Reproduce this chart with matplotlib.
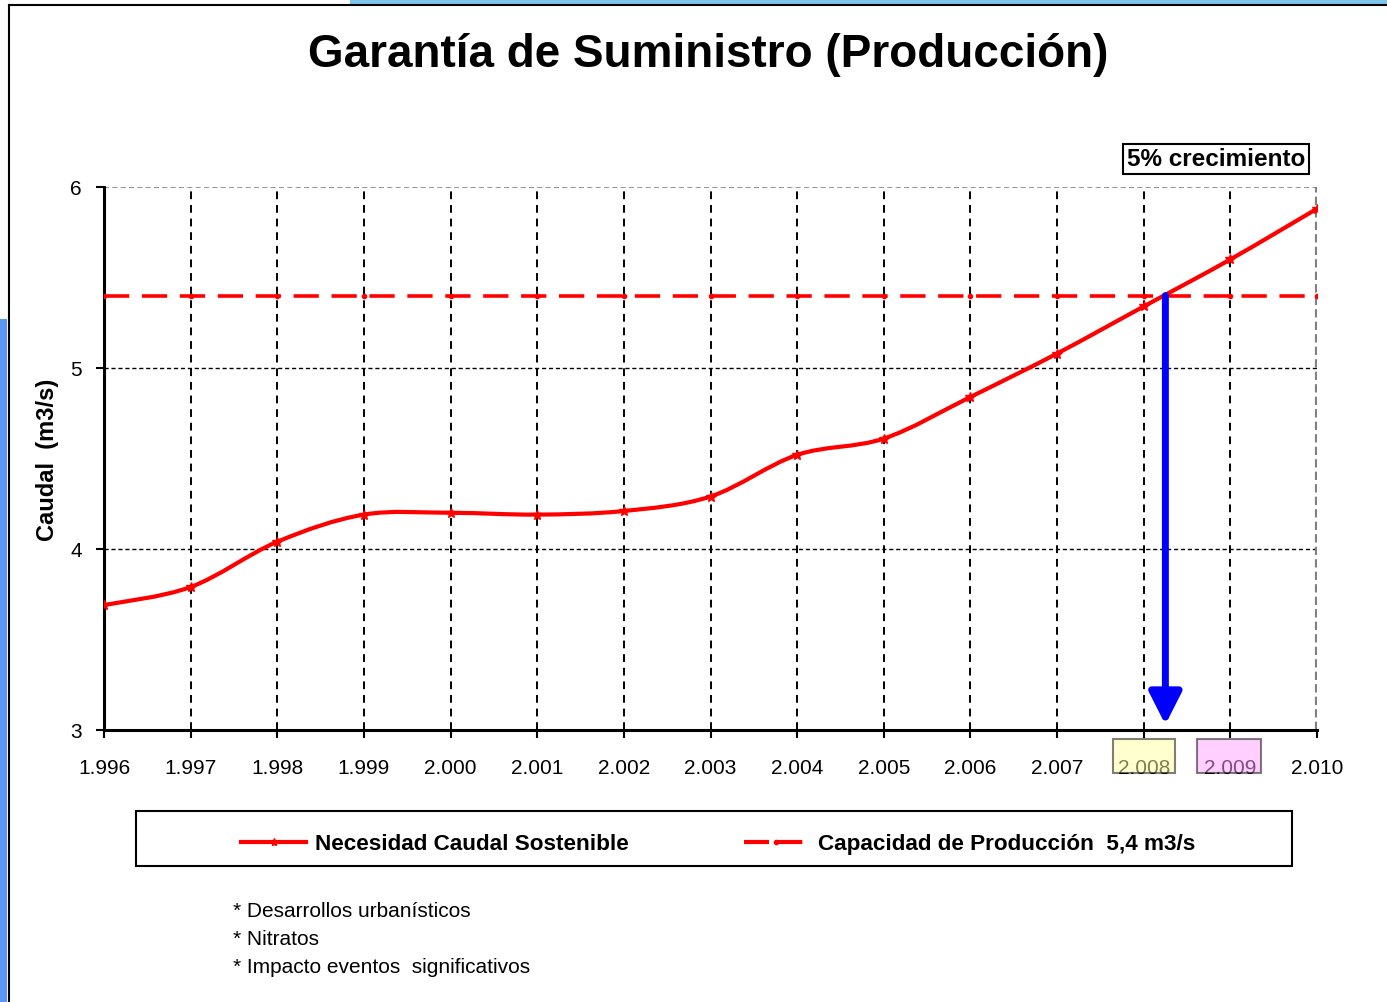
import matplotlib
matplotlib.use("Agg")
import matplotlib.pyplot as plt
import matplotlib.patches as mpatches
from matplotlib.path import Path
from matplotlib.lines import Line2D

plt.rcParams['font.family'] = ['Liberation Sans', 'DejaVu Sans']

# Data
years = [1996, 1997, 1998, 1999, 2000, 2001, 2002, 2003, 2004, 2005,
         2006, 2007, 2008, 2009, 2010]
year_labels = ['1.996', '1.997', '1.998', '1.999', '2.000', '2.001', '2.002',
               '2.003', '2.004', '2.005', '2.006', '2.007', '2.008', '2.009',
               '2.010']
demand = [3.69, 3.79, 4.04, 4.19, 4.20, 4.19, 4.21, 4.29, 4.52, 4.61,
          4.84, 5.08, 5.34, 5.60, 5.88]
capacity = [5.4] * len(years)
crossing_year = 2008.25
notes = ['* Desarrollos urbanísticos', '* Nitratos',
         '* Impacto eventos  significativos']

W, H = 1387, 1003
fig = plt.figure(figsize=(W / 100, H / 100), dpi=100)
ax = fig.add_axes([104 / W, 1 - 731 / H, (1317 - 104) / W, (731 - 188) / H])


def smooth_path(xs, ys):
    """Excel-like smoothed line: Bezier segments through every point"""
    verts = [(xs[0], ys[0])]
    codes = [Path.MOVETO]
    n = len(xs)
    for i in range(n - 1):
        x0, y0 = xs[max(i - 1, 0)], ys[max(i - 1, 0)]
        x1, y1 = xs[i], ys[i]
        x2, y2 = xs[i + 1], ys[i + 1]
        x3, y3 = xs[min(i + 2, n - 1)], ys[min(i + 2, n - 1)]
        c1 = (x1 + (x2 - x0) / 6, y1 + (y2 - y0) / 6)
        c2 = (x2 - (x3 - x1) / 6, y2 - (y3 - y1) / 6)
        verts += [c1, c2, (x2, y2)]
        codes += [Path.CURVE4] * 3
    return Path(verts, codes)


# grid
for yr in years[1:-1]:
    ax.axvline(yr, color='black', lw=1.4, dashes=(4, 3), zorder=1)
for v in [4, 5]:
    ax.axhline(v, color='black', lw=1.0, dashes=(3, 2), zorder=1)
ax.axhline(6, color='grey', lw=1.2, dashes=(3, 2), zorder=1)
ax.axvline(2010, color='grey', lw=3, dashes=(2, 1), zorder=1)

# series
ax.add_patch(mpatches.PathPatch(smooth_path(years, demand), fill=False,
                                edgecolor='red', lw=3, zorder=3))
ax.plot(years, demand, ls='none', marker='*', ms=7, color='red', zorder=4)
ax.plot(years, capacity, color='red', lw=2.6, dashes=(7, 3.5),
        marker='o', ms=3, zorder=3)

# arrow from the crossing point down to the x axis
ax.annotate('', xy=(crossing_year, 3.03), xytext=(crossing_year, capacity[0]),
            arrowprops=dict(arrowstyle='-|>,head_width=0.33,head_length=0.65',
                            color='blue', lw=5, mutation_scale=30,
                            shrinkA=0, shrinkB=0), zorder=5)

ax.set_xlim(1996, 2010)
ax.set_ylim(3, 6)
ax.set_xticks(years)
ax.set_xticklabels(year_labels)
ax.set_yticks([3, 4, 5, 6])
ax.tick_params(axis='both', labelsize=15, direction='out', length=6, width=1.5)
ax.tick_params(axis='x', pad=14)
ax.tick_params(axis='y', pad=10)
for s in ['top', 'right']:
    ax.spines[s].set_visible(False)
ax.spines['left'].set_linewidth(2.2)
ax.spines['bottom'].set_linewidth(2.2)
ax.set_ylabel('Caudal  (m3/s)', fontsize=17, fontweight='bold', labelpad=8)

# highlighted tick labels 2008 / 2009
xt = ax.get_xaxis_transform()
for x0, x1, fc in [(2007.65, 2008.36, '#ffffa0'), (2008.62, 2009.35, '#ffa0ff')]:
    fig.add_artist(mpatches.Rectangle((x0, -0.079), x1 - x0, 0.063,
                                      transform=xt, facecolor=fc, alpha=0.5,
                                      edgecolor='black', lw=1.5, zorder=5))

# title and box label
fig.text(708 / W, 1 - 55 / H, 'Garantía de Suministro (Producción)',
         ha='center', va='center', fontsize=33, fontweight='bold')
fig.text(1216 / W, 1 - 160 / H, '5% crecimiento', ha='center', va='center',
         fontsize=17.5, fontweight='bold',
         bbox=dict(boxstyle='square,pad=0.15', facecolor='white',
                   edgecolor='black', lw=1.5))

# legend
fig.add_artist(mpatches.Rectangle((136 / W, 1 - 867 / H), (1292 - 136) / W,
                                  55 / H, transform=fig.transFigure,
                                  facecolor='white', edgecolor='black', lw=1.5))
handles = [Line2D([], [], color='red', lw=3, marker='*', ms=6),
           Line2D([], [], color='red', lw=3, dashes=(6, 2), marker='o', ms=3)]
fig.legend(handles, ['Necesidad Caudal Sostenible',
                     'Capacidad de Producción  5,4 m3/s'],
           loc='center', bbox_to_anchor=(718 / W, 1 - 845 / H), ncol=2,
           frameon=False, handlelength=2.9, handletextpad=0.4,
           columnspacing=5.1, prop=dict(size=16.2, weight='bold'))

# notes
for i, t in enumerate(notes):
    fig.text(233 / W, 1 - (912 + 28 * i) / H, t, ha='left', va='center',
             fontsize=15)

# slide frame decorations
fig.add_artist(mpatches.Rectangle((0, 0), 7 / W, 1 - 320 / H,
                                  transform=fig.transFigure,
                                  facecolor='#5b96f5', edgecolor='none'))
fig.add_artist(mpatches.Rectangle((350 / W, 1 - 5 / H), 1 - 350 / W, 5 / H,
                                  transform=fig.transFigure,
                                  facecolor='#7ec4e8', edgecolor='none'))
fig.add_artist(Line2D([9 / W, 9 / W], [0, 1 - 6 / H],
                      transform=fig.transFigure, color='black', lw=1.5))
fig.add_artist(Line2D([9 / W, 1], [1 - 6 / H, 1 - 6 / H],
                      transform=fig.transFigure, color='black', lw=1.5))

fig.savefig('out.png', dpi=100)
